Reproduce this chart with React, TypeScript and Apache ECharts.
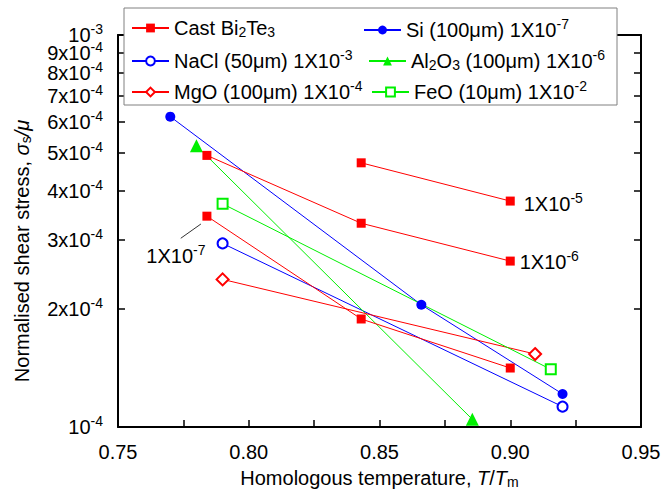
import React, { useEffect, useRef } from 'react';
import * as echarts from 'echarts';

const FONT = "'Liberation Sans', Arial, Helvetica, sans-serif";
const RED = '#ff0000';
const BLUE = '#0000ff';
const GREEN = '#00f000';

// ---- data (x = T/Tm, y = normalised shear stress) ----
const castX = [0.784, 0.843, 0.9];
const cast5X = [0.843, 0.9];
const cast5Y = [4.72e-4, 3.77e-4];
const cast6Y = [4.93e-4, 3.31e-4, 2.65e-4];
const cast7Y = [3.45e-4, 1.886e-4, 1.414e-4];
const siX = [0.77, 0.866, 0.92];
const siY = [6.19e-4, 2.05e-4, 1.214e-4];
const naclX = [0.79, 0.92];
const naclY = [2.94e-4, 1.127e-4];
const al2o3X = [0.78, 0.8855];
const al2o3Y = [5.22e-4, 1.046e-4];
const mgoX = [0.79, 0.9095];
const mgoY = [2.38e-4, 1.535e-4];
const feoX = [0.79, 0.9155];
const feoY = [3.71e-4, 1.403e-4];

const yTicks = [1e-4, 2e-4, 3e-4, 4e-4, 5e-4, 6e-4, 7e-4, 8e-4, 9e-4, 1e-3];
const yLabelsOdd = [1e-4, 3e-4, 5e-4, 7e-4, 9e-4];
const yLabelsEven = [2e-4, 4e-4, 6e-4, 8e-4, 1e-3];
const xTicks = [0.75, 0.775, 0.8, 0.825, 0.85, 0.875, 0.9, 0.925, 0.95];
const xLabels = [0.75, 0.8, 0.85, 0.9, 0.95];
const leader7 = [[0.774, 3.03e-4], [0.7817, 3.295e-4]];

const NAMES = {
  cast: 'Cast Bi2Te3',
  si: 'Si (100μm) 1X10-7',
  nacl: 'NaCl (50μm) 1X10-3',
  al: 'Al2O3 (100μm) 1X10-6',
  mgo: 'MgO (100μm) 1X10-4',
  feo: 'FeO (10μm) 1X10-2',
};
const LEGEND_RICH: Record<string, string> = {
  [NAMES.cast]: '{n|Cast Bi}{sub|2}{n|Te}{sub|3}',
  [NAMES.si]: '{n|Si (100μm) 1X10}{sup|-7}',
  [NAMES.nacl]: '{n|NaCl (50μm) 1X10}{sup|-3}',
  [NAMES.al]: '{n|Al}{sub|2}{n|O}{sub|3}{n| (100μm) 1X10}{sup|-6}',
  [NAMES.mgo]: '{n|MgO (100μm) 1X10}{sup|-4}',
  [NAMES.feo]: '{n|FeO (10μm) 1X10}{sup|-2}',
};

const rich = {
  n: { fontFamily: FONT, fontSize: 20, lineHeight: 20, color: '#000' },
  i: { fontFamily: FONT, fontSize: 20, lineHeight: 20, fontStyle: 'italic', color: '#000' },
  sup: { fontFamily: FONT, fontSize: 14, lineHeight: 8, padding: [0, 0, 12, 0], color: '#000' },
  sub: { fontFamily: FONT, fontSize: 14, lineHeight: 12, padding: [8, 0, 0, 0], color: '#000' },
};
// compact boxes for the crowded log-axis labels
const yRich = {
  n: { fontFamily: FONT, fontSize: 20, lineHeight: 15, color: '#000' },
  sup: { fontFamily: FONT, fontSize: 14, lineHeight: 3, padding: [0, 0, 12, 0], color: '#000' },
};

const lg = Math.log10;
const pts = (xs: number[], ys: number[]) => xs.map((x, i) => [x, lg(ys[i])]);

function lineSeries(name: string, xs: number[], ys: number[], color: string, symbol: string, size: number, filled: boolean) {
  return {
    type: 'line',
    name,
    data: pts(xs, ys),
    symbol,
    symbolSize: size,
    showSymbol: true,
    lineStyle: { color, width: 1 },
    itemStyle: { color, borderColor: color, borderWidth: filled ? 0 : 1 },
    emphasis: { disabled: true },
    z: 3,
  };
}

function yLabel(val: number) {
  const e = Math.floor(val + 1e-9);
  const m = Math.round(Math.pow(10, val) / Math.pow(10, e));
  return m === 1 ? `{n|10}{sup|${e}}` : `{n|${m}x10}{sup|${e}}`;
}

function legendAt(name: string, left: number, top: number) {
  return {
    data: [name],
    left,
    top,
    orient: 'vertical',
    padding: 0,
    itemWidth: 37,
    itemHeight: 11,
    itemGap: 7,
    selectedMode: false,
    formatter: (n: string) => LEGEND_RICH[n] || n,
    textStyle: { rich, fontFamily: FONT, fontSize: 20, color: '#000' },
    z: 10,
  };
}

export default function App() {
  const ref = useRef<HTMLDivElement>(null);
  useEffect(() => {
    if (!ref.current) return;
    const chart = echarts.init(ref.current, null, { renderer: 'svg' });

    const cast5: any = lineSeries(NAMES.cast, cast5X, cast5Y, RED, 'rect', 9, true);
    cast5.data[cast5.data.length - 1] = {
      value: cast5.data[cast5.data.length - 1],
      label: { show: true, position: 'right', distance: 9, offset: [0, 3], formatter: '{n|1X10}{sup|-5}', rich },
    };
    const cast6: any = lineSeries(NAMES.cast, castX, cast6Y, RED, 'rect', 9, true);
    cast6.data[cast6.data.length - 1] = {
      value: cast6.data[cast6.data.length - 1],
      label: { show: true, position: 'right', distance: 5, offset: [0, 1], formatter: '{n|1X10}{sup|-6}', rich },
    };
    const cast7: any = lineSeries(NAMES.cast, castX, cast7Y, RED, 'rect', 9, true);
    cast7.data[0] = {
      value: cast7.data[0],
      label: { show: true, position: 'inside', offset: [-31, 40], formatter: '{n|1X10}{sup|-7}', rich },
    };
    cast7.markLine = {
      silent: true,
      symbol: 'none',
      label: { show: false },
      lineStyle: { color: '#333', width: 1, type: 'solid' },
      emphasis: { disabled: true },
      data: [[{ coord: [leader7[0][0], lg(leader7[0][1])] }, { coord: [leader7[1][0], lg(leader7[1][1])] }]],
    };

    const series = [
      lineSeries(NAMES.si, siX, siY, BLUE, 'circle', 10, true),
      lineSeries(NAMES.nacl, naclX, naclY, BLUE, 'emptyCircle', 10, false),
      lineSeries(NAMES.al, al2o3X, al2o3Y, GREEN, 'triangle', 13, true),
      lineSeries(NAMES.mgo, mgoX, mgoY, RED, 'emptyDiamond', 12, false),
      lineSeries(NAMES.feo, feoX, feoY, GREEN, 'emptyRect', 10, false),
      cast7,
      cast6,
      cast5,
    ];

    const axisLine = { show: true, lineStyle: { color: '#000', width: 2 } };
    const tickStyle = { color: '#000', width: 1.5 };
    const yLabelBase = {
      formatter: yLabel,
      margin: 15,
      rich: yRich,
      showMinLabel: true,
      showMaxLabel: true,
      hideOverlap: false,
    };

    chart.setOption({
      animation: false,
      backgroundColor: '#fff',
      textStyle: { fontFamily: FONT },
      grid: { left: 118, right: 26, top: 35, bottom: 66, containLabel: false, outerBoundsMode: 'none' },
      legend: [
        legendAt(NAMES.cast, 131, 17),
        legendAt(NAMES.nacl, 131, 48),
        legendAt(NAMES.mgo, 131, 79),
        legendAt(NAMES.si, 363, 17),
        legendAt(NAMES.al, 368, 48),
        legendAt(NAMES.feo, 371, 79),
      ],
      graphic: [
        {
          type: 'rect',
          shape: { x: 124, y: 8, width: 493, height: 97 },
          style: { fill: '#fff', stroke: '#808080', lineWidth: 1 },
          z: 5,
        },
      ],
      xAxis: [
        {
          type: 'value',
          position: 'bottom',
          min: 0.75,
          max: 0.95,
          axisLine,
          axisTick: { show: true, inside: true, length: 7, lineStyle: tickStyle, customValues: xTicks },
          axisLabel: {
            customValues: xLabels,
            formatter: (v: number) => v.toFixed(2),
            margin: 15,
            fontFamily: FONT,
            fontSize: 20,
            color: '#000',
            showMinLabel: true,
            showMaxLabel: true,
          },
          splitLine: { show: false },
          name: '{n|Homologous temperature, }{i|T}{n|/}{i|T}{sub|m}',
          nameLocation: 'middle',
          nameGap: 40,
          nameTextStyle: { rich },
        },
        {
          type: 'value',
          position: 'top',
          min: 0.75,
          max: 0.95,
          axisLine,
          axisTick: { show: false },
          axisLabel: { show: false },
          splitLine: { show: false },
        },
      ],
      yAxis: [
        {
          type: 'value',
          position: 'left',
          min: -4,
          max: -3,
          axisLine,
          axisTick: { show: true, inside: true, length: 7, lineStyle: tickStyle, customValues: yTicks.map(lg) },
          axisLabel: { ...yLabelBase, customValues: yLabelsOdd.map(lg) },
          splitLine: { show: false },
          name: '{n|Normalised shear stress, }{i|σ}{sub|s}{i|/μ}',
          nameLocation: 'middle',
          nameRotate: 90,
          nameGap: 86,
          nameTextStyle: { rich, padding: [0, 40, 0, 0] },
        },
        {
          type: 'value',
          position: 'right',
          min: -4,
          max: -3,
          axisLine,
          axisTick: { show: true, inside: true, length: 7, lineStyle: tickStyle, customValues: yTicks.map(lg) },
          axisLabel: { show: false },
          splitLine: { show: false },
        },
        {
          type: 'value',
          position: 'left',
          offset: 0,
          min: -4,
          max: -3,
          axisLine: { show: false },
          axisTick: { show: false },
          axisLabel: { ...yLabelBase, customValues: yLabelsEven.map(lg) },
          splitLine: { show: false },
        },
      ],
      series,
    });
    return () => chart.dispose();
  }, []);
  return <div ref={ref} style={{ position: 'absolute', left: 0, top: 0, width: 667, height: 493 }} />;
}
